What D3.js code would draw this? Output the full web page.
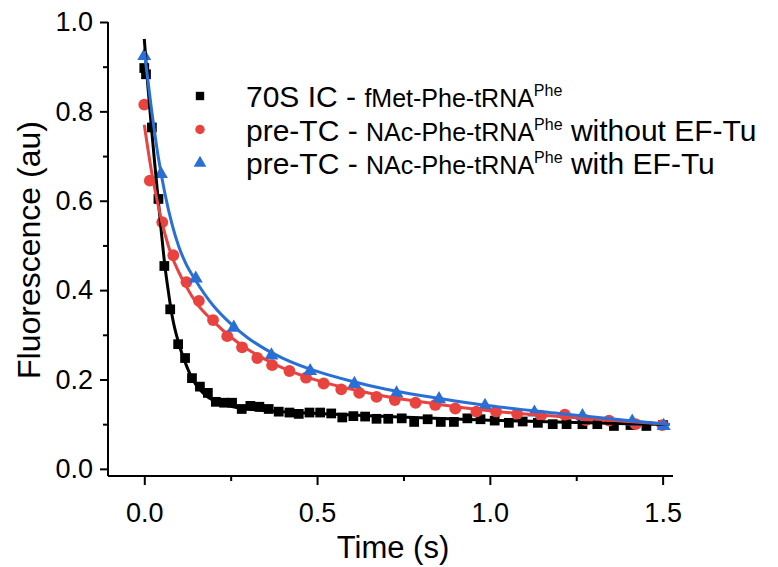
<!DOCTYPE html>
<html>
<head>
<meta charset="utf-8">
<script src="https://cdn.jsdelivr.net/npm/d3@7"></script>
<style>
  body { margin: 0; background: #fff; }
  text { font-family: "Liberation Sans", Arial, sans-serif; fill: #000; }
</style>
</head>
<body>
<div id="chart"></div>
<script>
// data: time (s) and fluorescence (au)
var icT = [0.0, 0.005, 0.022, 0.041, 0.058, 0.075, 0.098, 0.118, 0.138, 0.161, 0.184, 0.207, 0.231, 0.254, 0.282, 0.307, 0.333, 0.360, 0.389, 0.420, 0.447, 0.478, 0.509, 0.541, 0.573, 0.605, 0.639, 0.672, 0.706, 0.745, 0.781, 0.820, 0.858, 0.896, 0.935, 0.973, 1.014, 1.055, 1.095, 1.139, 1.182, 1.222, 1.268, 1.311, 1.359, 1.407, 1.453, 1.501];
var icY = [0.897, 0.883, 0.764, 0.604, 0.454, 0.357, 0.279, 0.248, 0.203, 0.184, 0.170, 0.150, 0.148, 0.148, 0.134, 0.141, 0.139, 0.134, 0.128, 0.126, 0.123, 0.126, 0.126, 0.124, 0.115, 0.118, 0.117, 0.112, 0.112, 0.113, 0.105, 0.111, 0.105, 0.105, 0.113, 0.111, 0.108, 0.103, 0.106, 0.103, 0.100, 0.100, 0.100, 0.100, 0.096, 0.098, 0.096, 0.098];

var noTuT = [0.0, 0.016, 0.052, 0.084, 0.122, 0.158, 0.199, 0.240, 0.283, 0.327, 0.370, 0.420, 0.468, 0.519, 0.570, 0.622, 0.672, 0.725, 0.785, 0.842, 0.900, 0.961, 1.018, 1.079, 1.148, 1.217, 1.278, 1.345, 1.422, 1.499];
var noTuY = [0.815, 0.645, 0.552, 0.478, 0.418, 0.376, 0.333, 0.297, 0.272, 0.248, 0.232, 0.219, 0.204, 0.191, 0.178, 0.170, 0.161, 0.154, 0.148, 0.143, 0.135, 0.128, 0.128, 0.123, 0.119, 0.121, 0.109, 0.108, 0.100, 0.098];

var withTuT = [0.0, 0.048, 0.149, 0.259, 0.368, 0.480, 0.608, 0.730, 0.853, 0.986, 1.129, 1.268, 1.412, 1.503];
var withTuY = [0.924, 0.660, 0.426, 0.316, 0.254, 0.219, 0.190, 0.169, 0.156, 0.141, 0.126, 0.118, 0.106, 0.096];

// fitted curves, also
var icFitT = [0.0, 0.01, 0.02, 0.03, 0.04, 0.05, 0.06, 0.07, 0.08, 0.10, 0.12, 0.14, 0.16, 0.18, 0.20, 0.25, 0.30, 0.40, 0.50, 0.70, 1.00, 1.25, 1.52];
var icFitY = [0.962, 0.86, 0.77, 0.685, 0.605, 0.525, 0.452, 0.395, 0.345, 0.28, 0.235, 0.2, 0.178, 0.163, 0.153, 0.14, 0.134, 0.128, 0.124, 0.117, 0.109, 0.104, 0.099];

var noTuFitT = [0.0, 0.02, 0.04, 0.06, 0.08, 0.10, 0.12, 0.15, 0.20, 0.25, 0.30, 0.35, 0.40, 0.50, 0.60, 0.70, 0.80, 0.90, 1.00, 1.20, 1.40, 1.52];
var noTuFitY = [0.77, 0.67, 0.59, 0.525, 0.475, 0.44, 0.41, 0.372, 0.33, 0.295, 0.267, 0.245, 0.226, 0.198, 0.178, 0.162, 0.150, 0.139, 0.130, 0.117, 0.106, 0.100];

var withTuFitT = [0.0, 0.02, 0.04, 0.06, 0.08, 0.10, 0.12, 0.15, 0.20, 0.25, 0.30, 0.35, 0.40, 0.50, 0.60, 0.70, 0.80, 0.90, 1.00, 1.20, 1.40, 1.52];
var withTuFitY = [0.935, 0.81, 0.70, 0.615, 0.548, 0.497, 0.46, 0.42, 0.365, 0.325, 0.293, 0.268, 0.248, 0.218, 0.196, 0.178, 0.164, 0.152, 0.141, 0.124, 0.108, 0.099];

var xTicks = [0, 0.5, 1.0, 1.5];
var xMinor = [0.25, 0.75, 1.25];
var yTicks = [0, 0.2, 0.4, 0.6, 0.8, 1.0];
var yMinor = [0.1, 0.3, 0.5, 0.7, 0.9];

var W = 778, H = 567;
var svg = d3.select("#chart").append("svg")
    .attr("width", W)
    .attr("height", H);

var x = d3.scaleLinear().domain([-0.105, 1.53]).range([108, 673]);
var y = d3.scaleLinear().domain([-0.016, 1.0]).range([476, 22]);

function zip(a, b) {
    return a.map(function(v, i) { return { t: v, f: b[i] }; });
}

var series = [
    { pts: zip(icT, icY), fit: zip(icFitT, icFitY), color: "#000000", shape: d3.symbolSquare, size: 95 },
    { pts: zip(noTuT, noTuY), fit: zip(noTuFitT, noTuFitY), color: "#e8433f", shape: d3.symbolCircle, size: 110 },
    { pts: zip(withTuT, withTuY), fit: zip(withTuFitT, withTuFitY), color: "#2a6fd6", shape: d3.symbolTriangle, size: 85 }
];

// axes
var bottom = y.range()[0], left = x.range()[0];

var xMinorG = svg.append("g")
    .attr("transform", "translate(0," + bottom + ")")
    .call(d3.axisBottom(x).tickValues(xMinor).tickSize(5).tickFormat(""));
var xAxisG = svg.append("g")
    .attr("transform", "translate(0," + bottom + ")")
    .call(d3.axisBottom(x).tickValues(xTicks).tickSize(9).tickPadding(18)
        .tickFormat(d3.format(".1f")));

var yMinorG = svg.append("g")
    .attr("transform", "translate(" + left + ",0)")
    .call(d3.axisLeft(y).tickValues(yMinor).tickSize(5).tickFormat(""));
var yAxisG = svg.append("g")
    .attr("transform", "translate(" + left + ",0)")
    .call(d3.axisLeft(y).tickValues(yTicks).tickSize(8).tickPadding(7)
        .tickFormat(d3.format(".1f")));

xMinorG.select(".domain").remove();
yMinorG.select(".domain").remove();
xAxisG.select(".domain").attr("d", "M" + left + ",0H" + x.range()[1]);
yAxisG.select(".domain").attr("d", "M0," + y(1.0) + "V" + bottom);

svg.selectAll(".domain").attr("stroke", "#000").attr("stroke-width", 2);
svg.selectAll(".tick line").attr("stroke", "#000").attr("stroke-width", 2);
svg.selectAll(".tick text")
    .style("font-family", "Liberation Sans, Arial, sans-serif")
    .style("font-size", "27px");

// axis titles
svg.append("text")
    .attr("x", 393)
    .attr("y", 558)
    .attr("text-anchor", "middle")
    .style("font-size", "31px")
    .text("Time (s)");

svg.append("text")
    .attr("transform", "translate(40,250) rotate(-90)")
    .attr("text-anchor", "middle")
    .style("font-size", "32px")
    .text("Fluorescence (au)");

// markers then fit lines
var line = d3.line()
    .x(function(d) { return x(d.t); })
    .y(function(d) { return y(d.f); })
    .curve(d3.curveMonotoneX);

series.forEach(function(s) {
    svg.append("g").selectAll("path")
        .data(s.pts)
        .enter().append("path")
        .attr("d", d3.symbol().type(s.shape).size(s.size))
        .attr("transform", function(d) { return "translate(" + x(d.t) + "," + y(d.f) + ")"; })
        .attr("fill", s.color);
});
series.forEach(function(s) {
    svg.append("path")
        .datum(s.fit)
        .attr("d", line)
        .attr("fill", "none")
        .attr("stroke", s.color)
        .attr("stroke-width", 3);
});

// legend
var legendRows = [
    { big: "70S IC - ", small: "fMet-Phe-tRNA", sup: "Phe", tail: "" },
    { big: "pre-TC - ", small: "NAc-Phe-tRNA", sup: "Phe", tail: " without EF-Tu" },
    { big: "pre-TC - ", small: "NAc-Phe-tRNA", sup: "Phe", tail: " with EF-Tu" }
];
var legend = svg.append("g").attr("transform", "translate(200,96)");
legendRows.forEach(function(r, i) {
    var s = series[i];
    var row = legend.append("g").attr("transform", "translate(0," + (i * 33.5) + ")");
    row.append("path")
        .attr("d", d3.symbol().type(s.shape).size(70))
        .attr("fill", s.color);
    var t = row.append("text").attr("x", 46).attr("y", 11);
    t.append("tspan").style("font-size", "30px").text(r.big);
    t.append("tspan").style("font-size", "25px").text(r.small);
    t.append("tspan").style("font-size", "16px").attr("dy", -11).text(r.sup);
    if (r.tail) {
        t.append("tspan").style("font-size", "30px").attr("dy", 11).text(r.tail);
    }
});
</script>
</body>
</html>
